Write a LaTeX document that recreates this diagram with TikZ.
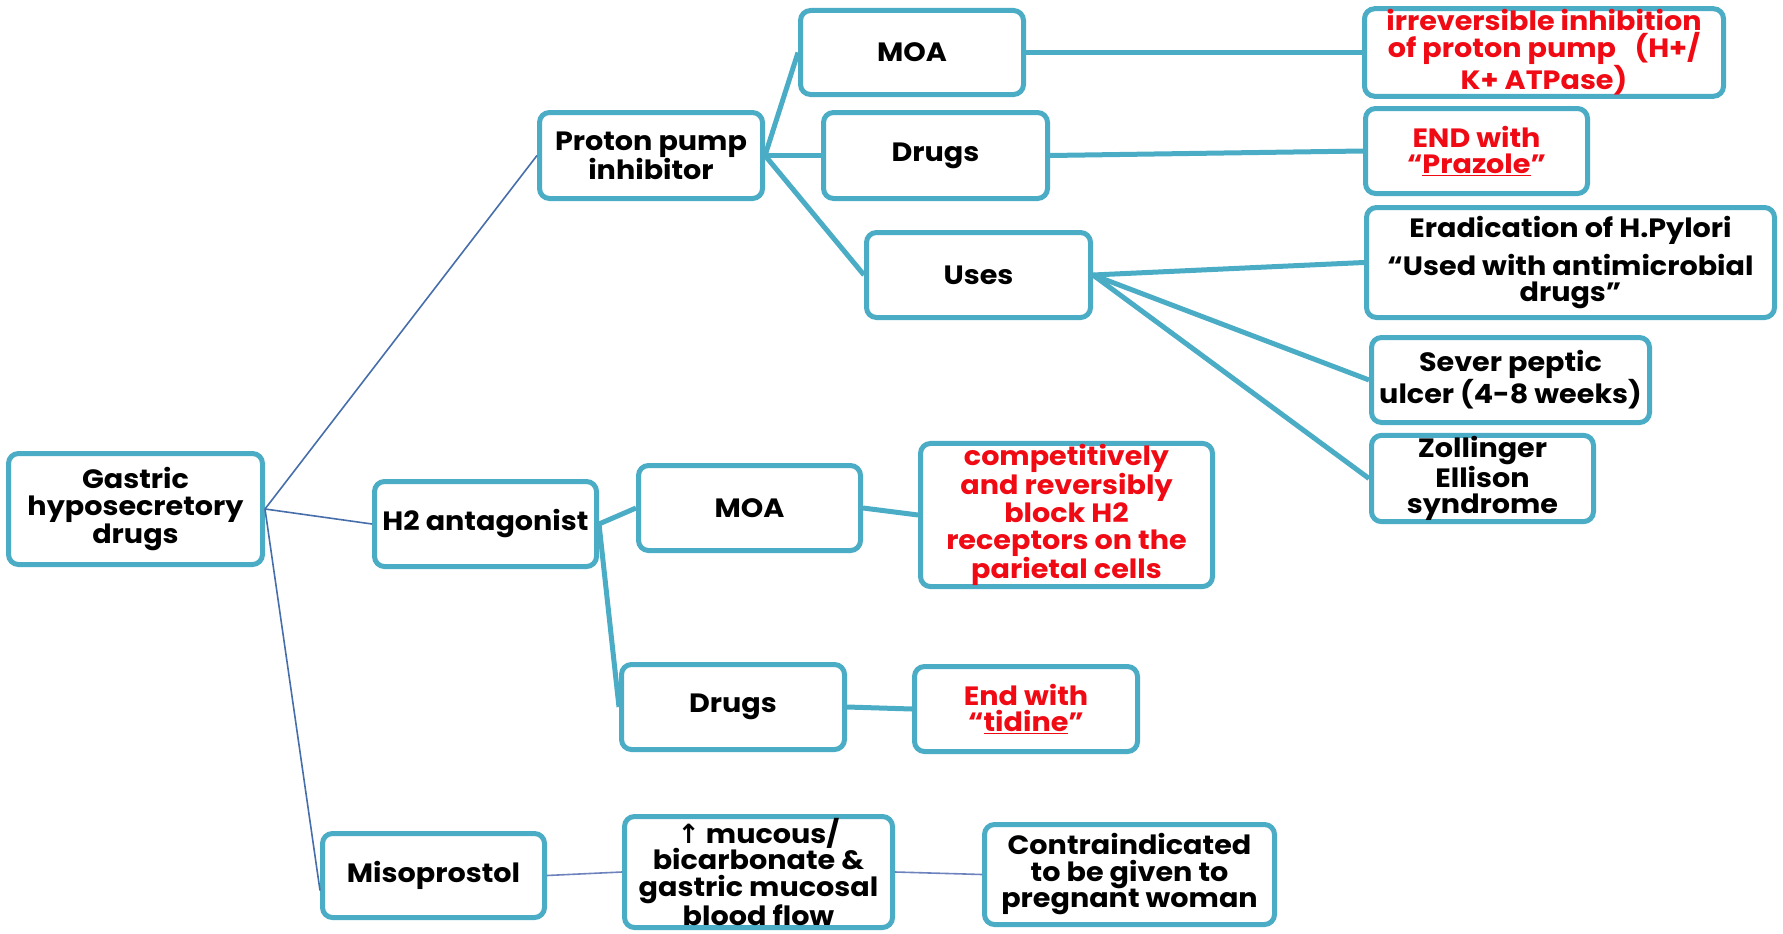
\documentclass[tikz,border=0pt]{standalone}
\usepackage{fontspec}
\setmainfont{Poppins}[FakeStretch=1.08]
\newfontfamily\arrowfont{DejaVu Sans}
\definecolor{boxc}{RGB}{75,172,198}
\definecolor{thinb}{RGB}{70,110,170}
\definecolor{thinm}{RGB}{110,130,190}
\definecolor{redt}{RGB}{240,10,20}
\begin{document}
\begin{tikzpicture}[x=1pt,y=-1pt,
  box/.style={draw=boxc, line width=5pt, rounded corners=10pt, fill=white, align=center,
    font=\fontsize{26.5}{26.5}\selectfont\bfseries, inner sep=1pt},
  redbox/.style={box, text=redt},
  conn/.style={draw=boxc, line width=5pt},
  thinc/.style={draw=thinb, line width=1.6pt},
  thinm/.style={draw=thinm, line width=1.6pt}]
\useasboundingbox (0,0) rectangle (1783,934);
% nodes
\node[box, minimum width=254pt, minimum height=111pt] (gas) at (135.5,509) {Gastric\\hyposecretory\\drugs};
\node[box, minimum width=223pt, minimum height=86pt] (pp) at (651,155.5) {Proton pump\\inhibitor};
\node[box, minimum width=223pt, minimum height=84pt] (moa1) at (912,52.5) {MOA};
\node[box, minimum width=224pt, minimum height=86pt] (drug1) at (935.5,155.5) {Drugs};
\node[box, minimum width=224pt, minimum height=85pt] (uses) at (978.5,275) {Uses};
\node[redbox, minimum width=359pt, minimum height=84pt] (irr) at (1544,52.5) {irreversible inhibition\\of proton pump\hspace{0.7em}(H+/\\K+ ATPase)};
\node[redbox, minimum width=222pt, minimum height=85pt] (endp) at (1476.5,151) {END with\\“\underline{Prazole}”};
\node[box, minimum width=408pt, minimum height=110pt] (erad) at (1570.5,262.5) {Eradication of H.Pylori\\[9pt]“Used with antimicrobial\\drugs”};
\node[box, minimum width=278pt, minimum height=85pt] (sever) at (1510.5,380) {Sever peptic\\ulcer (4-8 weeks)};
\node[box, minimum width=222pt, minimum height=86pt] (zoll) at (1482.5,478.5) {Zollinger\\Ellison\\syndrome};
\node[box, minimum width=222pt, minimum height=85pt] (h2) at (485.5,524) {H2 antagonist};
\node[box, minimum width=222pt, minimum height=85pt] (moa2) at (749.5,508) {MOA};
\node[redbox, minimum width=292pt, minimum height=143pt] (comp) at (1066.5,515) {competitively\\and reversibly\\block H2\\receptors on the\\parietal cells};
\node[box, minimum width=223pt, minimum height=85pt] (drug2) at (733,707) {Drugs};
\node[redbox, minimum width=223pt, minimum height=85pt] (tid) at (1026,709) {End with\\“\underline{tidine}”};
\node[box, minimum width=222pt, minimum height=84pt] (miso) at (433.5,875.5) {Misoprostol};
\node[box, minimum width=268pt, minimum height=111pt] (muc) at (758.5,872) {{\arrowfont ↑} mucous/\\bicarbonate \&\\gastric mucosal\\blood flow};
\node[box, minimum width=290pt, minimum height=100pt] (contra) at (1129.5,874.5) {Contraindicated\\to be given to\\pregnant woman};
% connectors
\draw[thinc] (gas.east) -- (pp.west);
\draw[thinc] (gas.east) -- (h2.west);
\draw[thinc] (gas.east) -- ([yshift=-15pt]miso.west);
\draw[conn] (pp.east) -- (moa1.west);
\draw[conn] (pp.east) -- (drug1.west);
\draw[conn] (pp.east) -- (uses.west);
\draw[conn] (moa1.east) -- (irr.west);
\draw[conn] (drug1.east) -- (endp.west);
\draw[conn] (uses.east) -- (erad.west);
\draw[conn] (uses.east) -- (sever.west);
\draw[conn] (uses.east) -- (zoll.west);
\draw[conn] (h2.east) -- (moa2.west);
\draw[conn] (h2.east) -- (drug2.west);
\draw[conn] (moa2.east) -- (comp.west);
\draw[conn] (drug2.east) -- (tid.west);
\draw[thinm] (miso.east) -- (muc.west);
\draw[thinm] (muc.east) -- (contra.west);
\end{tikzpicture}
\end{document}
